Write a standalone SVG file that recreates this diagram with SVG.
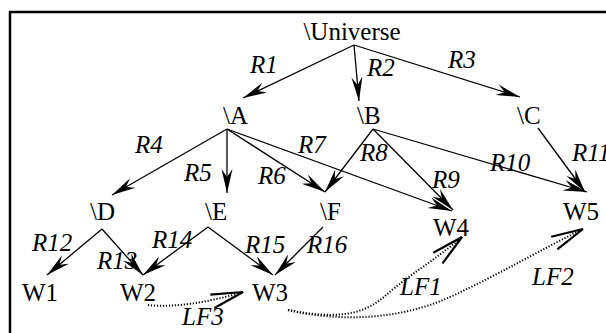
<svg xmlns="http://www.w3.org/2000/svg" width="606" height="333" viewBox="0 0 606 333">
<defs>
<style>
.n{font-family:"Liberation Serif","Times New Roman",serif;font-size:25px;fill:#000}
.l{font-family:"Liberation Serif","Times New Roman",serif;font-size:25px;font-style:italic;fill:#000}
.e{stroke:#000;stroke-width:1.3;fill:none;marker-end:url(#ah)}
.d{stroke:#000;stroke-width:2;fill:none;stroke-dasharray:1.2 1.8;marker-end:url(#oh)}
</style>
<marker id="ah" markerUnits="userSpaceOnUse" orient="auto" overflow="visible" markerWidth="1" markerHeight="1" refX="0" refY="0">
<path d="M0,0 L-24,-5.5 L-16,0 L-24,5.5 Z" fill="#000"/>
</marker>
<marker id="oh" markerUnits="userSpaceOnUse" orient="auto" overflow="visible" markerWidth="1" markerHeight="1" refX="0" refY="0">
<path d="M-32,-7 L0,0 L-32,7" fill="none" stroke="#000" stroke-width="2.2" stroke-dasharray="none"/>
</marker>
</defs>
<rect x="10" y="12" width="620" height="340" fill="#fff" stroke="#000" stroke-width="2.5"/>
<g id="connectors">
<line class="e" x1="354" y1="45" x2="243" y2="98"/>
<line class="e" x1="354" y1="45" x2="359" y2="101"/>
<line class="e" x1="354" y1="45" x2="520" y2="97"/>
<line class="e" x1="227" y1="129" x2="112" y2="195"/>
<line class="e" x1="227" y1="129" x2="227" y2="193"/>
<line class="e" x1="227" y1="129" x2="325" y2="192"/>
<line class="e" x1="227" y1="129" x2="452" y2="211"/>
<line class="e" x1="373" y1="129" x2="325" y2="192"/>
<line class="e" x1="373" y1="129" x2="453" y2="210"/>
<line class="e" x1="373" y1="129" x2="587" y2="192"/>
<line class="e" x1="538" y1="128" x2="585" y2="192"/>
<line class="e" x1="102" y1="229" x2="47" y2="275"/>
<line class="e" x1="102" y1="229" x2="143" y2="275"/>
<line class="e" x1="208" y1="227" x2="143" y2="275"/>
<line class="e" x1="208" y1="227" x2="273" y2="275"/>
<line class="e" x1="323" y1="227" x2="275" y2="275"/>
<path class="d" d="M148,305 C175,308 210,302 243,292"/>
<path class="d" d="M288,310 C330,318 360,318 385,296 S438,258 462,237"/>
<path class="d" d="M288,310 C340,322 400,320 450,297 S540,250 583,229"/>
</g>
<g id="edge-labels">
<text class="l" x="250" y="73">R1</text>
<text class="l" x="367" y="76">R2</text>
<text class="l" x="448" y="68">R3</text>
<text class="l" x="135" y="153">R4</text>
<text class="l" x="184" y="181">R5</text>
<text class="l" x="258" y="184">R6</text>
<text class="l" x="298" y="153">R7</text>
<text class="l" x="360" y="161">R8</text>
<text class="l" x="432" y="188">R9</text>
<text class="l" x="490" y="171">R10</text>
<text class="l" x="572" y="161">R11</text>
<text class="l" x="32" y="251">R12</text>
<text class="l" x="97" y="269">R13</text>
<text class="l" x="152" y="248">R14</text>
<text class="l" x="245" y="253">R15</text>
<text class="l" x="307" y="253">R16</text>
<text class="l" x="400" y="295">LF1</text>
<text class="l" x="532" y="285">LF2</text>
<text class="l" x="182" y="325">LF3</text>
</g>
<g id="node-universe"><text class="n" x="352" y="40" text-anchor="middle">\Universe</text></g>
<g id="node-a"><text class="n" x="223" y="124">\A</text></g>
<g id="node-b"><text class="n" x="357" y="124">\B</text></g>
<g id="node-c"><text class="n" x="517" y="124">\C</text></g>
<g id="node-d"><text class="n" x="90" y="220">\D</text></g>
<g id="node-e"><text class="n" x="205" y="220">\E</text></g>
<g id="node-f"><text class="n" x="320" y="220">\F</text></g>
<g id="node-w1"><text class="n" x="22" y="301">W1</text></g>
<g id="node-w2"><text class="n" x="120" y="301">W2</text></g>
<g id="node-w3"><text class="n" x="252" y="301">W3</text></g>
<g id="node-w4"><text class="n" x="433" y="236">W4</text></g>
<g id="node-w5"><text class="n" x="563" y="220">W5</text></g>
</svg>
